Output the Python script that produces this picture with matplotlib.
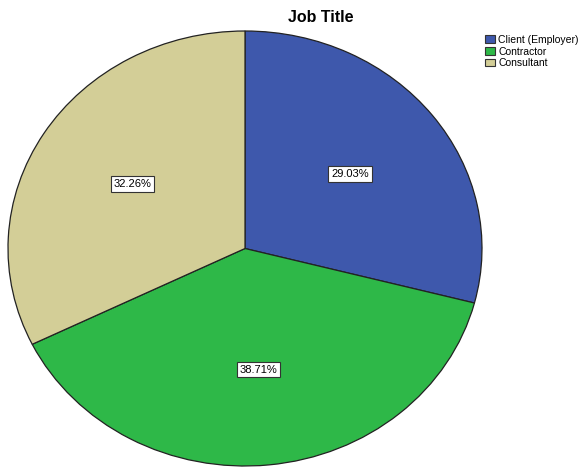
import matplotlib
matplotlib.use("Agg")
import matplotlib.pyplot as plt
from matplotlib.patches import Patch

categories = ["Client (Employer)", "Contractor", "Consultant"]
counts = [9, 12, 10]
colors = ["#3E58AC", "#2EB848", "#D3CE97"]
title = "Job Title"

plt.rcParams["font.family"] = ["Liberation Sans", "DejaVu Sans"]

W, H = 582, 468
fig = plt.figure(figsize=(W / 100, H / 100), dpi=100)
fig.patch.set_facecolor("white")

# pie area (stretched slightly wider than tall)
left, right, top, bottom = 8, 482, 31, 466
ax = fig.add_axes([left / W, (H - bottom) / H, (right - left) / W, (bottom - top) / H])

wedges, texts, autotexts = ax.pie(
    counts,
    colors=colors,
    startangle=90,
    counterclock=False,
    autopct="%.2f%%",
    pctdistance=0.56,
    wedgeprops=dict(edgecolor="#222222", linewidth=0.9),
    textprops=dict(fontsize=8, color="black"),
)
for t in autotexts:
    t.set_bbox(dict(facecolor="white", edgecolor="#333333", linewidth=0.8,
                    boxstyle="square,pad=0.25"))
ax.set_aspect("auto")
ax.set_xlim(-1.0, 1.0)
ax.set_ylim(-1.0, 1.0)
ax.axis("off")

fig.text(321 / W, 1 - 18 / H, title, ha="center", va="center",
         fontsize=11.5, fontweight="bold")

handles = [Patch(facecolor=c, edgecolor="#333333", linewidth=0.8) for c in colors]
fig.legend(handles, categories, loc="upper left",
           bbox_to_anchor=(485 / W, 1 - 35 / H), frameon=False,
           fontsize=7.5, handlelength=1.0, handleheight=0.8,
           handletextpad=0.25, labelspacing=0.15, borderpad=0.0,
           borderaxespad=0.0)

fig.savefig("out.png", dpi=100)
